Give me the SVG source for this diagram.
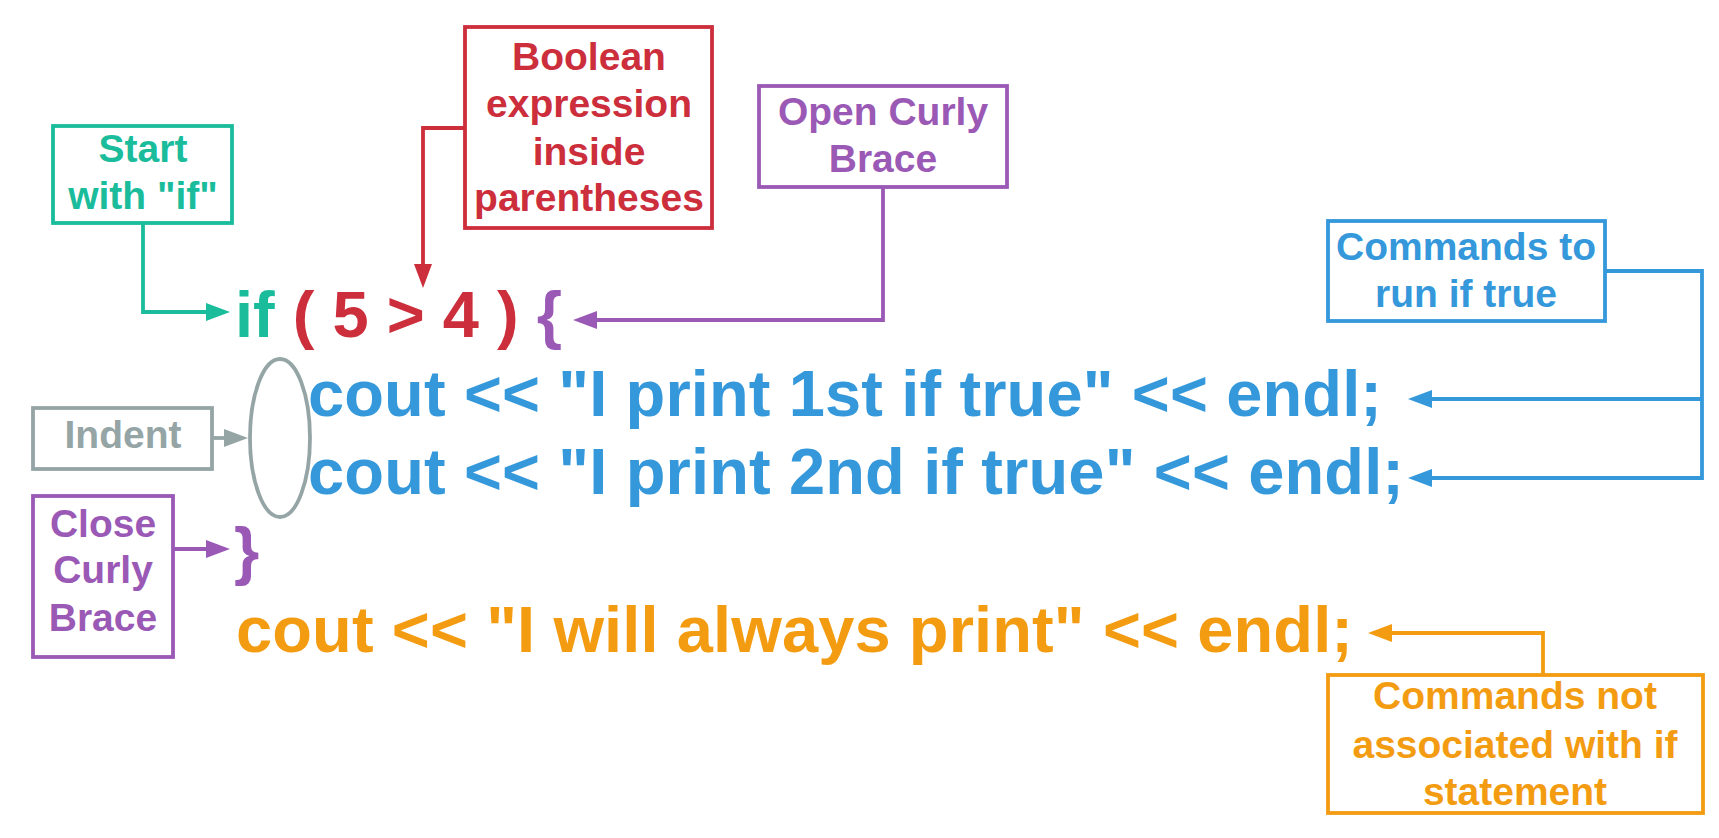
<svg xmlns="http://www.w3.org/2000/svg" width="1719" height="838" viewBox="0 0 1719 838">
<style>
text{font-family:"Liberation Sans",Arial,sans-serif;font-weight:bold;}
.lbl{font-size:39px;text-anchor:middle;}
.code{font-size:65px;}
.box{fill:#fff;stroke-width:3.8;}
.con{fill:none;stroke-width:3.8;}
.teal{fill:#1abc9c}.red{fill:#cc2e3b}.pur{fill:#9b59b6}.blue{fill:#3498db}.ora{fill:#f39c12}.gray{fill:#95a5a6}
</style>
<defs>
<marker id="mTeal" markerUnits="userSpaceOnUse" markerWidth="24" markerHeight="18" refX="14" refY="9" orient="auto"><path d="M0,0 L24,9 L0,18 z" fill="#1abc9c"/></marker>
<marker id="mRed" markerUnits="userSpaceOnUse" markerWidth="24" markerHeight="18" refX="14" refY="9" orient="auto"><path d="M0,0 L24,9 L0,18 z" fill="#cc2e3b"/></marker>
<marker id="mPur" markerUnits="userSpaceOnUse" markerWidth="24" markerHeight="18" refX="14" refY="9" orient="auto"><path d="M0,0 L24,9 L0,18 z" fill="#9b59b6"/></marker>
<marker id="mBlue" markerUnits="userSpaceOnUse" markerWidth="24" markerHeight="18" refX="14" refY="9" orient="auto"><path d="M0,0 L24,9 L0,18 z" fill="#3498db"/></marker>
<marker id="mOra" markerUnits="userSpaceOnUse" markerWidth="24" markerHeight="18" refX="14" refY="9" orient="auto"><path d="M0,0 L24,9 L0,18 z" fill="#f39c12"/></marker>
<marker id="mGray" markerUnits="userSpaceOnUse" markerWidth="24" markerHeight="18" refX="14" refY="9" orient="auto"><path d="M0,0 L24,9 L0,18 z" fill="#95a5a6"/></marker>
</defs>
<rect width="1719" height="838" fill="#fff"/>

<g id="connectors">
<path class="con" stroke="#1abc9c" d="M143,223 V312 H220" marker-end="url(#mTeal)"/>
<path class="con" stroke="#cc2e3b" d="M465,128 H423 V278" marker-end="url(#mRed)"/>
<path class="con" stroke="#9b59b6" d="M883,187 V320 H583" marker-end="url(#mPur)"/>
<path class="con" stroke="#3498db" d="M1605,271 H1702 V480"/>
<path class="con" stroke="#3498db" d="M1702,399 H1418" marker-end="url(#mBlue)"/>
<path class="con" stroke="#3498db" d="M1702,478 H1418" marker-end="url(#mBlue)"/>
<path class="con" stroke="#95a5a6" d="M212,438 H238" marker-end="url(#mGray)"/>
<path class="con" stroke="#9b59b6" d="M173,549 H220" marker-end="url(#mPur)"/>
<path class="con" stroke="#f39c12" d="M1543,675 V633 H1378" marker-end="url(#mOra)"/>
</g>

<g id="start-if">
<rect class="box" stroke="#1abc9c" x="53" y="126" width="179" height="97"/>
<text class="lbl teal"><tspan x="143" y="162">Start</tspan><tspan x="143" y="209">with "if"</tspan></text>
</g>

<g id="boolean-expression">
<rect class="box" stroke="#cc2e3b" x="465" y="27" width="247" height="201"/>
<text class="lbl red"><tspan x="589" y="70">Boolean</tspan><tspan x="589" y="117">expression</tspan><tspan x="589" y="165">inside</tspan><tspan x="589" y="211">parentheses</tspan></text>
</g>

<g id="open-curly-brace">
<rect class="box" stroke="#9b59b6" x="759" y="86" width="248" height="101"/>
<text class="lbl pur"><tspan x="883" y="125">Open Curly</tspan><tspan x="883" y="172">Brace</tspan></text>
</g>

<g id="commands-true">
<rect class="box" stroke="#3498db" x="1328" y="221" width="277" height="100"/>
<text class="lbl blue"><tspan x="1466" y="260">Commands to</tspan><tspan x="1466" y="307">run if true</tspan></text>
</g>

<g id="indent">
<rect class="box" stroke="#95a5a6" x="33" y="408" width="179" height="61"/>
<text class="lbl gray" x="123" y="448">Indent</text>
<ellipse cx="280" cy="438" rx="30" ry="79" fill="none" stroke="#95a5a6" stroke-width="3.8"/>
</g>

<g id="close-curly-brace">
<rect class="box" stroke="#9b59b6" x="33" y="496" width="140" height="161"/>
<text class="lbl pur"><tspan x="103" y="537">Close</tspan><tspan x="103" y="583">Curly</tspan><tspan x="103" y="631">Brace</tspan></text>
</g>

<g id="commands-not">
<rect class="box" stroke="#f39c12" x="1328" y="675" width="375" height="138"/>
<text class="lbl ora"><tspan x="1515" y="709">Commands not</tspan><tspan x="1515" y="758">associated with if</tspan><tspan x="1515" y="805">statement</tspan></text>
</g>

<g id="code">
<text class="code" x="235" y="337"><tspan class="teal">if</tspan><tspan class="red"> ( 5 &gt; 4 ) </tspan><tspan class="pur">{</tspan></text>
<text class="code blue" x="308" y="416" textLength="1074" lengthAdjust="spacing">cout &lt;&lt; "I print 1st if true" &lt;&lt; endl;</text>
<text class="code blue" x="308" y="494" textLength="1096" lengthAdjust="spacing">cout &lt;&lt; "I print 2nd if true" &lt;&lt; endl;</text>
<text class="code pur" x="234" y="573">}</text>
<text class="code ora" x="236" y="652" textLength="1117" lengthAdjust="spacing">cout &lt;&lt; "I will always print" &lt;&lt; endl;</text>
</g>
</svg>
